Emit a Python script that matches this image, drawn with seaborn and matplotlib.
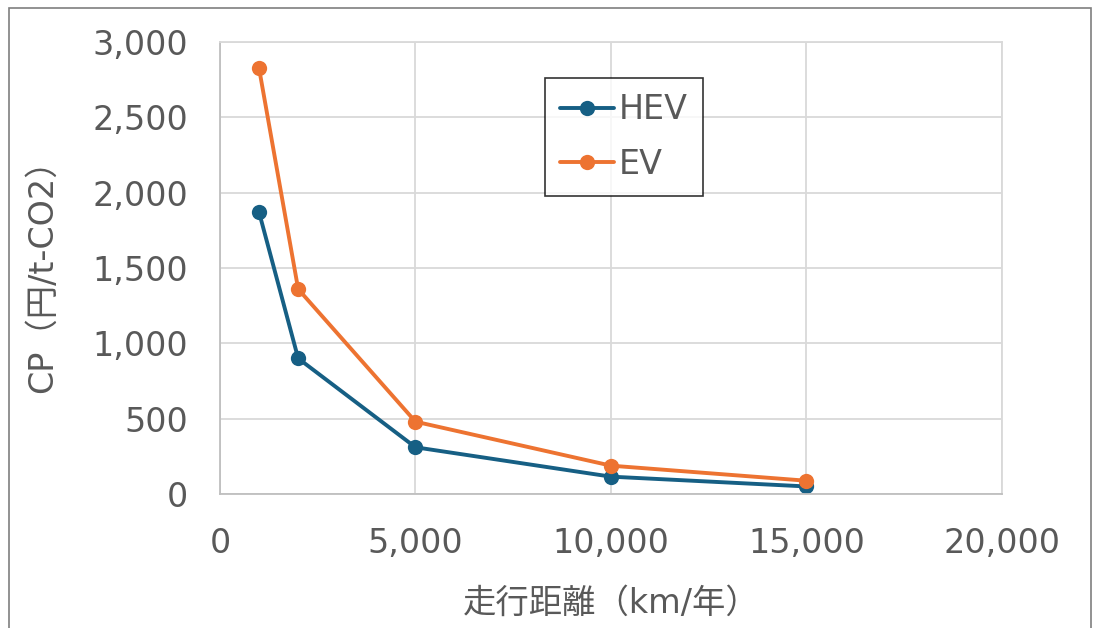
"""
plot.py
=======
CP (円/t-CO2) vs annual mileage for HEV and EV.
"""

import pandas as pd
import matplotlib.pyplot as plt
import seaborn as sns
from matplotlib.patches import Rectangle
from matplotlib.ticker import FuncFormatter

distance_km = [1000, 2000, 5000, 10000, 15000]
hev_cp      = [1870, 900, 310, 115, 50]
ev_cp       = [2825, 1360, 480, 188, 88]
series      = ["HEV", "EV"]
colors      = ["#165f84", "#ed7331"]

x_ticks = [0, 5000, 10000, 15000, 20000]
y_ticks = [0, 500, 1000, 1500, 2000, 2500, 3000]

df = pd.concat([
    pd.DataFrame({"km": distance_km, "cp": hev_cp, "type": "HEV"}),
    pd.DataFrame({"km": distance_km, "cp": ev_cp, "type": "EV"}),
])

sns.set_theme(style="whitegrid")
plt.rcParams["font.family"] = ["DejaVu Sans", "Noto Sans CJK JP"]
text_col = "#595959"
fs = 24

fig = plt.figure(figsize=(10.96, 6.28), dpi=100)
ax = fig.add_axes([0.2007, 0.2134, 0.7135, 0.7197])

sns.lineplot(data=df, x="km", y="cp", hue="type", hue_order=series,
             palette=dict(zip(series, colors)), marker="o", markersize=11,
             markeredgewidth=0, linewidth=2.8, ax=ax)

ax.set_xlim(0, 20000); ax.set_ylim(0, 3000)
ax.set_xticks(x_ticks); ax.set_yticks(y_ticks)
fmt = FuncFormatter(lambda v, _: f"{int(v):,}")
ax.xaxis.set_major_formatter(fmt); ax.yaxis.set_major_formatter(fmt)
ax.tick_params(axis="both", labelsize=fs, colors=text_col, length=0)
ax.tick_params(axis="x", pad=24)
ax.tick_params(axis="y", pad=23)
ax.grid(True, color="#d9d9d9", linewidth=1.3)
for side, sp in ax.spines.items():
    sp.set_visible(True)
    sp.set_color("#d9d9d9")
    sp.set_linewidth(1.3)
ax.spines["bottom"].set_color("#bfbfbf")
ax.spines["left"].set_color("#bfbfbf")

ax.set_xlabel("走行距離（km/年）", fontsize=fs, color=text_col, labelpad=19)
ax.set_ylabel("CP（円/t-CO2）", fontsize=fs, color=text_col, labelpad=24)

leg = ax.legend(loc="upper left", bbox_to_anchor=(0.416, 0.92), fontsize=fs,
                frameon=True, fancybox=False, handlelength=1.6,
                handletextpad=0.15, labelspacing=0.65, borderpad=0.45,
                borderaxespad=0)
leg.get_frame().set_edgecolor("black")
leg.get_frame().set_linewidth(1.2)
for t in leg.get_texts():
    t.set_color(text_col)

# outer chart border
fig.patches.append(Rectangle((0.008, -0.01), 0.987, 0.998, transform=fig.transFigure,
                             fill=False, edgecolor="#7f7f7f", linewidth=1.2))

fig.savefig("out.png", dpi=100)
